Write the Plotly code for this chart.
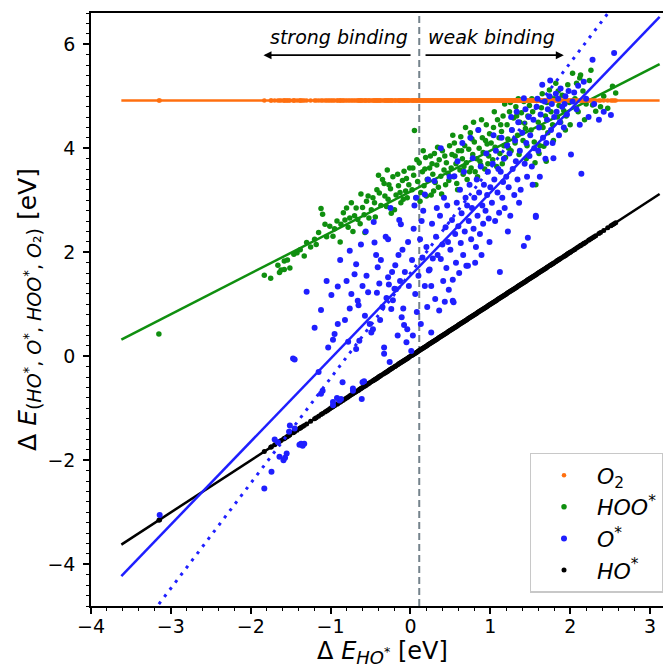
import plotly.graph_objects as go

# ---------------- data ----------------
O2_LEVEL = 4.92

hoo_x = [-3.15,
 -1.83,-1.75,-1.66,-1.64,-1.62,-1.58,-1.58,-1.54,-1.51,-1.46,-1.42,-1.33,-1.30,-1.38,-1.25,
 -1.12,-1.10,-1.07,-1.01,-1.20,-1.15,-1.05,-1.18,
 -0.97,-0.95,-0.87,-0.84,-0.82,-0.74,-0.70,-0.66,-0.63,-0.60,-0.55,-0.53,-0.58,-0.92,-0.78,-0.72,-0.68,-0.62,-0.57,-0.52,-0.88,-0.80,-0.76,
 -0.49,-0.45,-0.42,-0.39,-0.35,-0.33,-0.30,-0.28,-0.25,-0.22,-0.20,-0.18,-0.15,-0.12,-0.10,-0.08,-0.06,-0.04,-0.02,-0.47,-0.44,-0.37,-0.32,-0.27,-0.24,-0.16,-0.13,-0.09,-0.05,-0.01,-0.40,-0.29,
 0.02,0.05,0.04,0.07,0.09,0.11,0.13,0.15,0.17,0.19,0.21,0.22,0.24,0.26,0.28,0.30,0.31,0.33,0.35,0.36,0.38,0.40,0.42,0.44,0.45,0.47,0.49,0.03,0.08,0.12,0.16,0.20,0.25,0.29,0.34,0.39,0.43,0.48,0.18,0.27,
 0.51,0.52,0.54,0.55,0.57,0.58,0.60,0.62,0.63,0.65,0.66,0.68,0.70,0.71,0.73,0.75,0.76,0.78,0.80,0.81,0.83,0.85,0.86,0.88,0.90,0.91,0.93,0.95,0.96,0.98,0.99,0.53,0.59,0.64,0.69,0.74,0.79,0.84,0.89,0.94,0.56,0.67,0.77,0.87,0.97,
 1.01,1.03,1.04,1.06,1.08,1.09,1.11,1.12,1.14,1.16,1.17,1.19,1.21,1.22,1.24,1.26,1.27,1.29,1.31,1.32,1.34,1.36,1.37,1.39,1.41,1.42,1.44,1.46,1.47,1.49,1.05,1.15,1.25,1.35,1.45,1.13,1.23,1.33,1.43,1.18,
 1.51,1.53,1.55,1.57,1.58,1.60,1.62,1.64,1.65,1.67,1.69,1.71,1.72,1.74,1.76,1.78,1.80,1.82,1.84,1.86,1.88,1.90,1.92,1.94,1.97,1.99,1.56,1.61,1.70,1.79,1.85,1.95,1.66,1.75,1.52,
 2.03,2.06,2.10,2.13,2.16,2.20,2.24,2.28,2.32,2.38,2.42,2.47,2.53,2.57,2.08,2.18,2.00,2.26,2.12]

hoo_y = [0.43,
 1.56,1.50,1.75,1.61,1.66,1.67,1.83,1.85,1.70,1.96,1.99,1.93,2.19,2.05,2.10,
 2.84,2.73,2.54,2.50,2.25,2.38,2.30,2.15,
 2.31,2.45,2.54,2.76,2.62,2.95,2.70,2.63,2.55,2.86,2.98,3.08,2.72,2.60,2.48,2.40,2.85,3.12,2.38,2.66,2.20,2.85,2.66,
 2.82,2.95,3.20,3.14,3.40,3.32,2.88,3.02,3.22,3.45,2.82,3.10,3.28,2.95,3.38,3.56,3.18,3.05,3.30,3.05,2.68,2.90,3.08,3.30,2.75,3.50,3.15,3.02,3.42,3.62,3.48,3.58,
 3.20,4.34,3.48,3.05,3.36,3.72,3.15,3.55,3.28,3.82,3.40,3.40,3.62,3.10,3.50,3.90,3.34,3.68,3.25,3.78,3.46,3.95,3.58,3.30,3.72,3.52,4.05,3.62,3.78,2.98,3.95,3.08,3.85,3.18,4.02,3.12,3.85,3.38,3.60,3.70,
 3.62,3.88,3.45,4.10,3.70,3.32,3.95,3.58,4.22,3.80,3.50,4.05,3.72,3.40,3.98,4.30,3.62,3.88,4.12,3.55,3.80,4.35,4.00,3.68,4.20,3.92,3.60,4.45,4.08,3.85,4.28,4.25,3.20,3.95,4.40,3.55,4.50,3.45,4.55,4.15,3.85,3.65,4.18,3.75,3.70,
 4.10,3.78,4.40,4.02,3.65,4.55,4.20,3.90,4.32,4.62,4.05,3.82,4.45,4.18,4.70,3.95,4.35,4.58,4.10,4.80,4.25,3.88,4.50,4.68,4.15,4.90,4.38,4.05,4.62,4.82,4.70,3.70,4.88,4.95,3.80,4.45,4.00,4.62,4.48,4.85,
 4.35,4.70,4.12,3.30,4.92,4.50,4.05,4.78,5.05,4.04,4.62,4.88,4.30,5.12,4.70,4.45,4.95,5.25,4.60,4.82,4.50,5.02,4.72,4.35,5.22,4.88,3.72,3.90,3.75,4.15,5.10,4.62,4.40,4.98,4.95,
 5.44,4.95,4.70,5.41,5.10,4.85,5.30,4.83,4.71,4.80,5.00,4.77,5.19,5.06,5.25,4.55,4.45,5.50,5.35]

o_x = [-3.14,
 -1.83,-1.74,-1.66,-1.64,-1.59,-1.55,-1.57,-1.45,-1.39,-1.33,-1.37,-1.35,-1.47,-1.45,-1.30,-1.70,-1.52,-1.51,
 -1.12,-0.99,-0.97,-1.03,-1.10,-1.12,-0.97,-0.95,-0.91,-0.91,-0.97,-0.89,-0.92,-1.20,-1.05,-1.15,
 -0.87,-0.85,-0.76,-0.76,-0.72,-0.72,-0.68,-0.70,-0.66,-0.65,-0.64,-0.68,-0.60,-0.58,-0.61,-0.57,-0.53,-0.80,-0.82,-0.74,-0.62,-0.55,-0.51,-0.88,-0.78,-0.60,-0.56,
 -0.49,-0.47,-0.45,-0.43,-0.41,-0.39,-0.37,-0.35,-0.33,-0.33,-0.31,-0.28,-0.27,-0.24,-0.26,-0.22,-0.20,-0.18,-0.16,-0.15,-0.14,-0.12,-0.10,-0.11,-0.08,-0.05,-0.04,-0.02,-0.46,-0.38,-0.30,-0.23,-0.19,-0.07,-0.03,-0.13,-0.42,-0.25,-0.09,-0.28,
 0.01,0.03,0.02,0.04,0.06,0.07,0.08,0.10,0.12,0.13,0.15,0.16,0.18,0.18,0.20,0.21,0.23,0.24,0.26,0.26,0.27,0.28,0.30,0.31,0.32,0.34,0.36,0.37,0.38,0.38,0.40,0.41,0.42,0.44,0.45,0.46,0.47,0.48,0.49,0.05,0.14,0.22,0.33,0.43,
 0.50,0.52,0.53,0.53,0.54,0.55,0.56,0.57,0.58,0.60,0.61,0.62,0.63,0.64,0.66,0.67,0.68,0.70,0.71,0.72,0.73,0.74,0.76,0.77,0.78,0.79,0.80,0.82,0.83,0.84,0.86,0.87,0.88,0.90,0.91,0.92,0.94,0.95,0.96,0.98,0.99,0.65,0.75,0.85,0.59,0.69,0.89,0.97,0.81,
 1.00,1.02,1.03,1.05,1.06,1.07,1.09,1.11,1.12,1.13,1.14,1.15,1.17,1.18,1.20,1.21,1.23,1.24,1.25,1.27,1.28,1.30,1.31,1.32,1.34,1.35,1.37,1.38,1.40,1.42,1.42,1.43,1.45,1.46,1.47,1.48,1.49,1.04,1.16,1.26,1.36,1.44,1.22,1.33,1.10,
 1.50,1.52,1.54,1.55,1.57,1.57,1.58,1.60,1.61,1.63,1.65,1.66,1.68,1.69,1.71,1.72,1.74,1.76,1.77,1.79,1.80,1.82,1.83,1.85,1.87,1.88,1.90,1.92,1.94,1.96,1.98,2.01,1.53,1.62,1.70,1.78,1.86,1.93,1.59,1.75,
 2.03,2.05,2.08,2.10,2.14,2.17,2.20,2.23,2.28,2.30,2.36,2.42,2.51,2.55,2.12]

o_y = [-3.05,
 -2.54,-2.22,-1.65,-1.93,-2.00,-1.87,-1.95,-1.39,-1.70,-1.68,-1.68,-1.72,-0.04,-0.06,1.24,-1.60,-1.45,-1.33,
 0.89,1.18,0.32,0.17,-0.66,-0.72,-0.88,0.43,0.62,1.34,-0.94,-0.85,-0.80,0.55,1.45,-0.30,
 -0.82,-0.50,2.03,0.92,-0.66,-0.62,1.77,1.58,1.07,0.98,0.30,0.14,-0.50,-0.48,-0.82,0.78,1.23,1.45,0.70,1.20,2.15,1.55,0.62,1.85,0.28,1.35,2.40,
 0.46,0.52,2.19,1.95,1.71,1.40,1.85,0.95,0.17,0.05,2.30,1.52,1.38,0.91,-0.11,1.08,1.30,1.29,0.40,1.95,2.62,2.54,2.05,0.75,0.60,0.27,0.52,1.35,2.58,0.70,1.12,1.62,1.75,1.62,2.20,1.45,1.22,2.85,0.92,2.25,
 0.10,0.40,1.85,2.45,1.20,3.05,0.85,1.55,2.25,0.62,1.90,2.80,3.11,1.35,2.10,0.95,1.65,1.67,1.35,0.46,2.55,1.88,3.37,1.10,2.30,1.95,0.88,2.70,1.87,4.00,2.15,1.45,3.05,2.48,1.70,2.90,2.20,1.28,3.45,2.90,2.60,3.40,2.85,1.05,
 2.05,2.62,1.07,1.47,1.04,3.46,2.35,1.80,2.95,2.50,1.60,3.20,2.18,2.75,1.95,3.55,2.40,1.74,2.90,1.74,2.60,3.30,2.25,2.85,3.81,2.45,3.05,2.10,3.40,2.70,3.15,2.35,3.65,2.90,2.55,3.30,2.80,3.90,3.10,2.65,2.20,4.10,4.20,4.35,3.75,3.05,1.95,3.55,1.80,
 3.25,2.95,3.70,3.40,2.60,3.95,3.15,2.76,1.62,3.55,4.20,3.05,3.80,2.85,3.45,4.05,3.25,3.90,2.70,4.35,3.60,3.10,4.15,3.75,3.40,4.50,3.95,3.20,4.30,2.12,4.96,3.70,4.10,3.45,2.28,4.60,3.85,4.25,3.35,4.60,2.95,4.75,2.40,4.70,3.60,
 4.25,3.65,4.55,4.00,2.68,2.70,4.80,3.95,4.40,4.65,5.22,4.20,4.90,3.80,4.55,4.75,5.00,4.35,4.85,3.81,4.60,5.05,4.70,4.95,4.50,5.15,4.80,4.40,5.00,4.65,5.10,3.88,3.30,3.45,4.10,4.10,4.25,4.85,4.95,5.30,
 4.90,5.07,4.75,5.20,3.51,5.28,4.95,4.60,5.70,4.85,4.55,4.70,4.64,5.83,4.45]

ho_x = sorted(set(hoo_x + o_x))   # ΔE_HO* of every material

# fitted scaling relations (slope, intercept)
fit_range = [-3.62, 3.12]
hoo_fit = (0.786, 3.166)
o_fit = (1.595, 1.55)
o_ideal = (2.02, 1.60)
o_ideal_range = [-3.15, 2.60]
ho_fit = (1.0, 0.0)
divider_x = 0.11

C_O2, C_HOO, C_O, C_HO = "#ff6f0f", "#0f8f0f", "#1f1fff", "#000000"
FONT = "DejaVu Sans"

def line_pts(fit, rng):
    return rng, [fit[0] * v + fit[1] for v in rng]

fig = go.Figure()

# divider
fig.add_trace(go.Scatter(x=[divider_x, divider_x], y=[-4.8, 6.6], mode="lines",
                         line=dict(color="#75838c", width=2, dash="7px,4px"),
                         showlegend=False, hoverinfo="skip"))

# HOO*
fig.add_trace(go.Scatter(x=hoo_x, y=hoo_y, mode="markers", name="<i>HOO</i><sup>*</sup>",
                         marker=dict(color=C_HOO, size=5.5), legendrank=2))
lx, ly = line_pts(hoo_fit, fit_range)
fig.add_trace(go.Scatter(x=lx, y=ly, mode="lines", line=dict(color=C_HOO, width=2.5),
                         showlegend=False))

# O2
fig.add_trace(go.Scatter(x=fit_range, y=[O2_LEVEL, O2_LEVEL], mode="lines",
                         line=dict(color=C_O2, width=2.5), showlegend=False))
fig.add_trace(go.Scatter(x=ho_x, y=[O2_LEVEL] * len(ho_x), mode="markers",
                         name="<i>O</i><sub>2</sub>",
                         marker=dict(color=C_O2, size=4.5), legendrank=1))

# HO*
lx, ly = line_pts(ho_fit, fit_range)
fig.add_trace(go.Scatter(x=lx, y=ly, mode="lines", line=dict(color=C_HO, width=2.5),
                         showlegend=False))
fig.add_trace(go.Scatter(x=ho_x, y=ho_x, mode="markers", name="<i>HO</i><sup>*</sup>",
                         marker=dict(color=C_HO, size=5), legendrank=4))

# O*
fig.add_trace(go.Scatter(x=o_x, y=o_y, mode="markers", name="<i>O</i><sup>*</sup>",
                         marker=dict(color=C_O, size=6), legendrank=3))
lx, ly = line_pts(o_fit, fit_range)
fig.add_trace(go.Scatter(x=lx, y=ly, mode="lines", line=dict(color=C_O, width=2.5),
                         showlegend=False))
lx, ly = line_pts(o_ideal, o_ideal_range)
fig.add_trace(go.Scatter(x=lx, y=ly, mode="lines",
                         line=dict(color=C_O, width=3, dash="3px,6px"),
                         showlegend=False))

# binding annotations
fig.add_annotation(x=-0.89, y=6.13, text="<i>strong binding</i>", showarrow=False,
                   font=dict(family=FONT, size=19, color="black"))
fig.add_annotation(x=1.02, y=6.13, text="<i>weak binding</i>", showarrow=False,
                   font=dict(family=FONT, size=19, color="black"))
fig.add_annotation(x=-1.84, y=5.79, ax=0.02, ay=5.79, axref="x", ayref="y",
                   xref="x", yref="y", text="", showarrow=True,
                   arrowhead=2, arrowsize=1, arrowwidth=1.6, arrowcolor="black")
fig.add_annotation(x=1.92, y=5.79, ax=0.17, ay=5.79, axref="x", ayref="y",
                   xref="x", yref="y", text="", showarrow=True,
                   arrowhead=2, arrowsize=1, arrowwidth=1.6, arrowcolor="black")

axis_common = dict(showgrid=False, zeroline=False, showline=True, linecolor="black",
                   linewidth=1.5, mirror=True, ticks="outside", ticklen=6, tickwidth=1.5,
                   tickcolor="black", tickfont=dict(family=FONT, size=19, color="black"))

y_title = ("Δ <i>E</i><sub><span style='font-size:19px'>(<i>HO</i><sup>*</sup>, "
           "<i>O</i><sup>*</sup>, <i>HOO</i><sup>*</sup>, <i>O</i>₂)</span></sub> [eV]")
x_title = "Δ <i>E</i><sub><span style='font-size:18px'><i>HO</i><sup>*</sup></span></sub> [eV]"

fig.update_xaxes(range=[-4.0, 3.3], tick0=0, dtick=1, ticklabelstandoff=-4,
                 minor=dict(dtick=0.2, ticks="outside", ticklen=3, tickwidth=1, tickcolor="black"),
                 title=dict(text=x_title,
                            font=dict(family=FONT, size=24, color="black"), standoff=4),
                 **axis_common)
fig.update_yaxes(range=[-4.8, 6.6], tick0=0, dtick=2, ticklabelstandoff=4,
                 minor=dict(dtick=0.2, ticks="outside", ticklen=3, tickwidth=1, tickcolor="black"),
                 title=dict(text=y_title,
                            font=dict(family=FONT, size=25, color="black"), standoff=4),
                 **axis_common)

fig.update_layout(
    width=671, height=669,
    margin=dict(l=83, r=4, t=3, b=71),
    paper_bgcolor="white", plot_bgcolor="white",
    font=dict(family=FONT, color="black"),
    legend=dict(x=0.982, y=0.022, xanchor="right", yanchor="bottom",
                bgcolor="rgba(255,255,255,0.85)", bordercolor="#c8c8c8", borderwidth=1.5,
                font=dict(family=FONT, size=22, color="black"),
                itemwidth=56, tracegroupgap=0),
    showlegend=True,
)

fig.write_html("out.html")
